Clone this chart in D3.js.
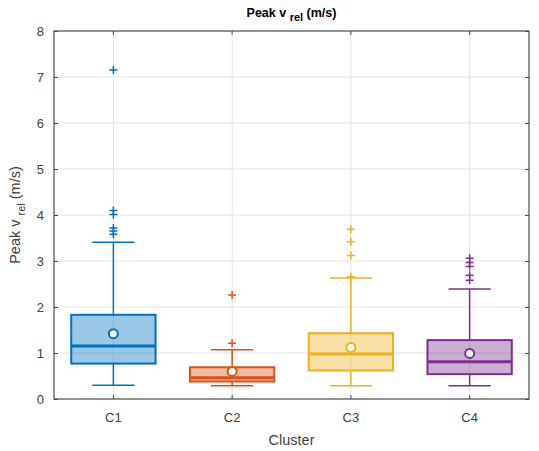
<!DOCTYPE html>
<html>
<head>
<meta charset="utf-8">
<script src="https://cdn.jsdelivr.net/npm/d3@7"></script>
<style>
  html, body { margin: 0; padding: 0; background: #fff; }
  svg { display: block; font-family: "Liberation Sans", Arial, Helvetica, sans-serif; }
</style>
</head>
<body>
<svg id="chart" width="539" height="451"></svg>
<script>
// ---- data ----
const categories = ["C1", "C2", "C3", "C4"];
const colors = ["#0072BD", "#D95319", "#EDB120", "#7E2F8E"];
const whiskerLow = [0.30, 0.29, 0.29, 0.29];
const q1 = [0.77, 0.38, 0.62, 0.54];
const median = [1.15, 0.46, 0.98, 0.81];
const q3 = [1.83, 0.69, 1.43, 1.28];
const whiskerHigh = [3.41, 1.07, 2.63, 2.39];
const means = [1.42, 0.60, 1.12, 0.99];
const outliers = [
  [7.15, 4.10, 4.01, 3.72, 3.65, 3.58],
  [2.26, 1.21],
  [3.69, 3.42, 3.12, 2.66],
  [3.06, 2.97, 2.88, 2.69, 2.58]
];
const yTicks = [0, 1, 2, 3, 4, 5, 6, 7, 8];

// ---- layout ----
const svg = d3.select("#chart");
const L = 54, R = 529, T = 31, B = 399;
const x = d3.scaleBand().domain(categories).range([L, R]).padding(0);
const y = d3.scaleLinear().domain([0, 8]).range([B, T]);
const bw = x.bandwidth();
const cx = c => x(c) + bw / 2;
const boxW = bw * 0.71;
const capW = boxW / 2;

// grid
const grid = svg.append("g");
grid.selectAll("line.gy").data(yTicks.slice(1, -1)).join("line")
  .attr("x1", L).attr("x2", R).attr("y1", d => y(d)).attr("y2", d => y(d))
  .attr("stroke", "#e3e3e3").attr("stroke-width", 1);
grid.selectAll("line.gx").data(categories).join("line")
  .attr("x1", d => cx(d)).attr("x2", d => cx(d)).attr("y1", T).attr("y2", B)
  .attr("stroke", "#e3e3e3").attr("stroke-width", 1);

// boxes
const g = svg.append("g");
categories.forEach((c, i) => {
  const col = colors[i];
  const xc = cx(c);
  const gg = g.append("g");
  // whiskers
  gg.append("line").attr("x1", xc).attr("x2", xc).attr("y1", y(q3[i])).attr("y2", y(whiskerHigh[i]))
    .attr("stroke", col).attr("stroke-width", 1.5);
  gg.append("line").attr("x1", xc).attr("x2", xc).attr("y1", y(q1[i])).attr("y2", y(whiskerLow[i]))
    .attr("stroke", col).attr("stroke-width", 1.5);
  [whiskerHigh[i], whiskerLow[i]].forEach(v => {
    gg.append("line").attr("x1", xc - capW / 2).attr("x2", xc + capW / 2).attr("y1", y(v)).attr("y2", y(v))
      .attr("stroke", col).attr("stroke-width", 1.5);
  });
  // box
  gg.append("rect").attr("x", xc - boxW / 2).attr("width", boxW)
    .attr("y", y(q3[i])).attr("height", y(q1[i]) - y(q3[i]))
    .attr("fill", col).attr("fill-opacity", 0.4)
    .attr("stroke", col).attr("stroke-width", 2);
  // median
  gg.append("line").attr("x1", xc - boxW / 2).attr("x2", xc + boxW / 2)
    .attr("y1", y(median[i])).attr("y2", y(median[i]))
    .attr("stroke", col).attr("stroke-width", 3);
  // outliers
  gg.selectAll("path.o").data(outliers[i]).join("path")
    .attr("d", d => `M${xc - 4},${y(d)}H${xc + 4}M${xc},${y(d) - 4}V${y(d) + 4}`)
    .attr("stroke", col).attr("stroke-width", 1.5).attr("fill", "none");
  // mean
  gg.append("circle").attr("cx", xc).attr("cy", y(means[i])).attr("r", 4.5)
    .attr("fill", "#fff").attr("stroke", col).attr("stroke-width", 2);
});

// axes frame
const axisCol = "#4a4a4a";
svg.append("rect").attr("x", L).attr("y", T).attr("width", R - L).attr("height", B - T)
  .attr("fill", "none").attr("stroke", axisCol).attr("stroke-width", 1.2);

const ax = svg.append("g").attr("transform", `translate(0,${B})`)
  .call(d3.axisBottom(x).tickSizeInner(-4).tickSizeOuter(0).tickPadding(14));
const ay = svg.append("g").attr("transform", `translate(${L},0)`)
  .call(d3.axisLeft(y).tickValues(yTicks).tickFormat(d3.format("d")).tickSizeInner(-4).tickSizeOuter(0).tickPadding(10));
const axT = svg.append("g").attr("transform", `translate(0,${T})`)
  .call(d3.axisTop(x).tickSizeInner(-4).tickSizeOuter(0).tickFormat(""));
const ayR = svg.append("g").attr("transform", `translate(${R},0)`)
  .call(d3.axisRight(y).tickValues(yTicks).tickSizeInner(-4).tickSizeOuter(0).tickFormat(""));
[ax, ay, axT, ayR].forEach(a => {
  a.select(".domain").remove();
  a.selectAll(".tick line").attr("stroke", axisCol).attr("stroke-width", 1);
  a.selectAll(".tick text").attr("fill", "#404040").style("font-size", "13px")
    .style("font-family", "'Liberation Sans', Arial, sans-serif");
});

// title
const title = svg.append("text").attr("x", (L + R) / 2).attr("y", 17)
  .attr("text-anchor", "middle").attr("fill", "#000")
  .style("font-size", "12.5px").style("font-weight", "bold");
title.append("tspan").text("Peak v ");
title.append("tspan").attr("dy", 4).style("font-size", "11px").text("rel");
title.append("tspan").attr("dy", -4).text(" (m/s)");

// x label
svg.append("text").attr("x", (L + R) / 2).attr("y", 445).attr("text-anchor", "middle")
  .attr("fill", "#404040").style("font-size", "14.5px").text("Cluster");

// y label
const yl = svg.append("text").attr("transform", `translate(20,${(T + B) / 2}) rotate(-90)`)
  .attr("text-anchor", "middle").attr("fill", "#404040").style("font-size", "14.5px");
yl.append("tspan").text("Peak v ");
yl.append("tspan").attr("dy", 5).style("font-size", "11px").text("rel");
yl.append("tspan").attr("dy", -5).text(" (m/s)");
</script>
</body>
</html>
